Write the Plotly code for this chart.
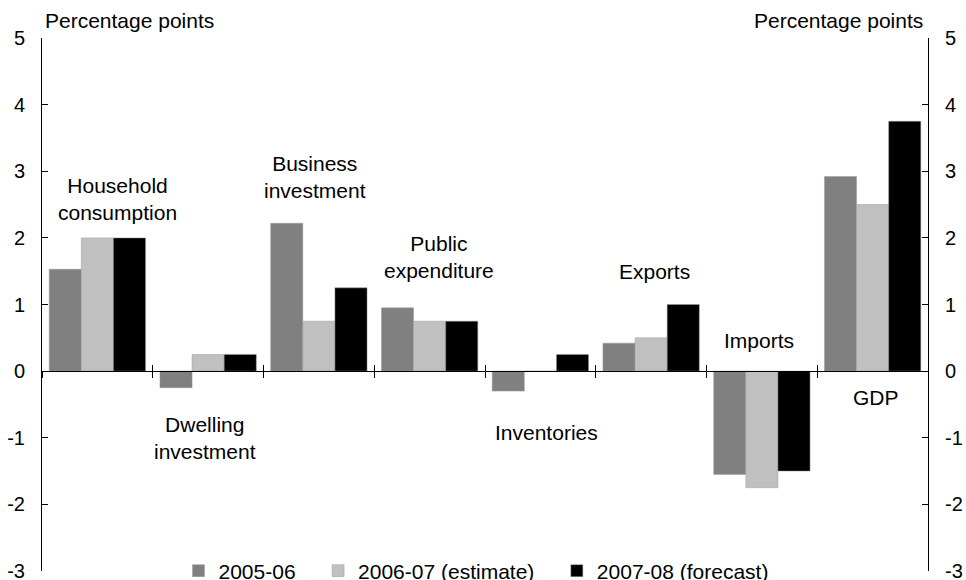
import plotly.graph_objects as go

categories = ["Household consumption", "Dwelling investment", "Business investment",
              "Public expenditure", "Inventories", "Exports", "Imports", "GDP"]
label_text = ["Household<br>consumption", "Dwelling<br>investment", "Business<br>investment",
              "Public<br>expenditure", "Inventories", "Exports", "Imports", "GDP"]
series_names = ["2005-06", "2006-07 (estimate)", "2007-08 (forecast)"]
v2005 = [1.53, -0.25, 2.22, 0.95, -0.30, 0.42, -1.55, 2.92]
v2006 = [2.00, 0.25, 0.75, 0.75, 0.00, 0.50, -1.75, 2.50]
v2007 = [2.00, 0.25, 1.25, 0.75, 0.25, 1.00, -1.50, 3.75]
y_ticks = [-3, -2, -1, 0, 1, 2, 3, 4, 5]
y_tick_labels = ["-3", "-2", "-1", "0", "1", "2", "3", "4", "5"]

# label placement (data-y and pixel x shift)
label_y = [2.59, -1.0, 2.92, 1.72, -0.915, 1.49, 0.465, -0.39]
label_dx = [20, -3, -4, 9, 6, 3, -3, 3]

colors = ["#808080", "#c0c0c0", "#000000"]
FONT = "Liberation Sans, Arial, sans-serif"
FS = 21

fig = go.Figure()
for name, vals, c in zip(series_names, [v2005, v2006, v2007], colors):
    fig.add_trace(go.Bar(x=categories, y=vals, name=name + "\u00a0\u00a0\u00a0",
                         marker=dict(color=c, line=dict(color="#9a9a9a", width=0.5))))

# invisible helper for secondary axes
fig.add_trace(go.Scatter(x=categories, y=[None]*len(categories), xaxis="x2", yaxis="y2",
                         showlegend=False, hoverinfo="skip", mode="markers"))

for cat, txt, ly, dx in zip(categories, label_text, label_y, label_dx):
    fig.add_annotation(x=cat, y=ly, text=txt, showarrow=False, xshift=dx,
                       font=dict(size=FS, color="#000", family=FONT))

fig.add_annotation(xref="paper", yref="paper", x=0, y=1, xshift=1, yshift=18,
                   xanchor="left", yanchor="middle", text="Percentage points",
                   showarrow=False, font=dict(size=FS, color="#000", family=FONT))
fig.add_annotation(xref="paper", yref="paper", x=1, y=1, xshift=-3, yshift=18,
                   xanchor="right", yanchor="middle", text="Percentage points",
                   showarrow=False, font=dict(size=FS, color="#000", family=FONT))

axis_common = dict(type="category", categoryarray=categories, range=[-0.5, 7.5],
                   showgrid=False, zeroline=False, showticklabels=False, automargin=False,
                   tickson="boundaries", ticklen=6, tickcolor="#000", tickwidth=1)
yaxis_common = dict(range=[-3, 5], tickvals=y_ticks, ticktext=y_tick_labels,
                    ticks="inside", ticklen=6, tickcolor="#000",
                    showline=True, linecolor="#000", linewidth=1, showgrid=False, zeroline=False,
                    automargin=False, ticklabelstandoff=12, ticklabeloverflow="allow",
                    tickfont=dict(size=20, family=FONT, color="#000"))

fig.update_layout(
    width=966, height=580,
    margin=dict(l=42, r=38, t=38, b=9, autoexpand=False),
    paper_bgcolor="white", plot_bgcolor="white",
    barmode="group", bargap=0.13, bargroupgap=0,
    font=dict(family=FONT, size=FS, color="#000"),
    xaxis=dict(**axis_common, ticks="outside", showline=True, linecolor="#000", linewidth=1,
               anchor="free", position=0.375),
    xaxis2=dict(**axis_common, ticks="inside", showline=False, overlaying="x",
                anchor="free", position=0.375),
    yaxis=dict(**yaxis_common),
    yaxis2=dict(**yaxis_common, overlaying="y", side="right", anchor="x"),
    legend=dict(orientation="h", x=0.5, xanchor="center",
                y=0, yanchor="middle",
                bgcolor="rgba(0,0,0,0)", font=dict(size=FS, family=FONT),
                traceorder="normal"),
    showlegend=True,
)

fig.write_html("out.html", config={"displayModeBar": False},
               post_script="document.body.style.margin='0';")
